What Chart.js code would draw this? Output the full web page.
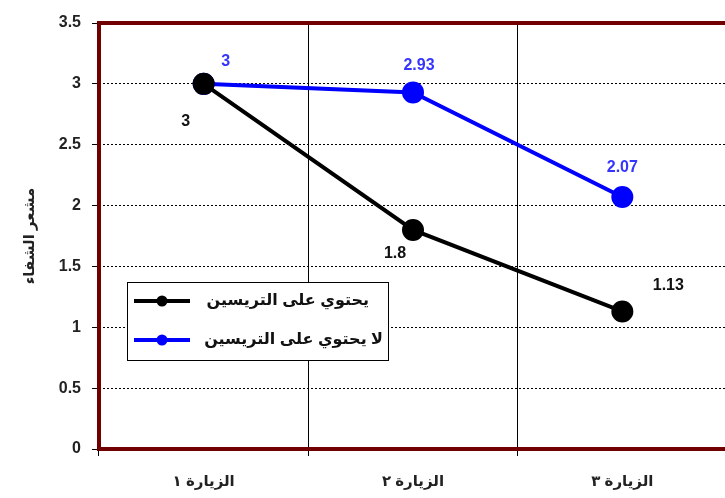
<!DOCTYPE html>
<html>
<head>
<meta charset="utf-8">
<script src="https://cdn.jsdelivr.net/npm/chart.js@4.4.1/dist/chart.umd.min.js"></script>
<style>
  html, body { margin: 0; padding: 0; background: #fff; overflow: hidden; }
  #wrap { width: 740px; height: 498px; }
</style>
</head>
<body>
<div id="wrap"><canvas id="myChart" width="740" height="498"></canvas></div>
<script>
// visits and recovery index per group
const visits = ['الزيارة ١', 'الزيارة ٢', 'الزيارة ٣'];
const withTriacin = [3, 1.8, 1.13];
const withoutTriacin = [3, 2.93, 2.07];
const seriesNames = ['يحتوي على التريسين', 'لا يحتوي على التريسين'];
const yTitle = 'مشعر الشفاء';

// where each value label sits relative to its point
const labelSpots = [
  [[-18, 38], [-18, 24], [46, -26]],
  [[22, -22], [6, -27], [0, -29]]
];

const FONT = '"Liberation Sans", Arial, "DejaVu Sans", sans-serif';
const FRAME = '#700000';

const data = {
  labels: visits,
  datasets: [{
    label: seriesNames[0],
    data: withTriacin,
    borderColor: '#000000',
    backgroundColor: '#000000',
    labelColor: '#111111',
    borderWidth: 4,
    pointRadius: 9,
    pointHoverRadius: 9,
    tension: 0
  }, {
    label: seriesNames[1],
    data: withoutTriacin,
    borderColor: '#0000ff',
    backgroundColor: '#0000ff',
    labelColor: '#3535ff',
    borderWidth: 4,
    pointRadius: 9,
    pointHoverRadius: 9,
    tension: 0
  }]
};

// dark red frame on top, left and bottom edges
const frame = {
  id: 'frame',
  beforeDatasetsDraw(chart) {
    const { ctx, chartArea: { top, bottom, left } } = chart;
    ctx.save();
    ctx.strokeStyle = FRAME;
    ctx.lineWidth = 4;
    ctx.beginPath();
    ctx.moveTo(chart.width, top);
    ctx.lineTo(left, top);
    ctx.lineTo(left, bottom);
    ctx.lineTo(chart.width, bottom);
    ctx.stroke();
    ctx.restore();
  }
};

// value labels next to each point
const valueLabels = {
  id: 'valueLabels',
  afterDatasetsDraw(chart) {
    const { ctx } = chart;
    ctx.save();
    ctx.font = 'bold 16px ' + FONT;
    ctx.textAlign = 'center';
    ctx.textBaseline = 'middle';
    chart.data.datasets.forEach((ds, i) => {
      const meta = chart.getDatasetMeta(i);
      ctx.fillStyle = ds.labelColor;
      meta.data.forEach((pt, j) => {
        const [dx, dy] = labelSpots[i][j];
        ctx.fillText(String(ds.data[j]), pt.x + dx, pt.y + dy);
      });
    });
    ctx.restore();
  }
};

// boxed legend inside the plot
const boxLegend = {
  id: 'boxLegend',
  afterDraw(chart) {
    const { ctx } = chart;
    const x = 127, y = 282, w = 261, h = 78;
    ctx.save();
    ctx.fillStyle = '#fff';
    ctx.fillRect(x, y, w, h);
    ctx.strokeStyle = '#000';
    ctx.lineWidth = 1;
    ctx.strokeRect(x + 0.5, y + 0.5, w, h);
    chart.data.datasets.forEach((ds, i) => {
      const cy = y + 19 + i * 39;
      ctx.strokeStyle = ds.borderColor;
      ctx.lineWidth = 4;
      ctx.beginPath();
      ctx.moveTo(x + 7, cy);
      ctx.lineTo(x + 63, cy);
      ctx.stroke();
      ctx.fillStyle = ds.backgroundColor;
      ctx.beginPath();
      ctx.arc(x + 35, cy, 5.5, 0, Math.PI * 2);
      ctx.fill();
      ctx.fillStyle = '#111';
      ctx.font = 'bold 16px ' + FONT;
      ctx.textAlign = 'right';
      ctx.textBaseline = 'middle';
      ctx.fillText(ds.label, i === 0 ? x + 242 : x + 256, cy);
    });
    ctx.restore();
  }
};

const config = {
  type: 'line',
  data,
  options: {
    responsive: false,
    animation: false,
    events: [],
    layout: { padding: { left: 21, top: 23, right: 0, bottom: 0 } },
    scales: {
      x: {
        offset: true,
        afterFit(scale) { scale.height = 49; },
        grid: {
          offset: true,
          color: '#000',
          lineWidth: 1,
          drawTicks: true,
          tickLength: 7,
          tickColor: '#000'
        },
        border: { display: false },
        ticks: {
          color: '#222',
          padding: 17,
          font: { family: FONT, size: 15, weight: 'bold' }
        }
      },
      y: {
        min: 0,
        max: 3.5,
        afterFit(scale) { scale.width = 78; },
        grid: {
          color: '#000',
          lineWidth: 1,
          drawTicks: true,
          tickLength: 7,
          tickColor: '#000'
        },
        border: { display: false, dash: [2, 2] },
        ticks: {
          stepSize: 0.5,
          color: '#222',
          padding: 11,
          font: { family: FONT, size: 16, weight: 'bold' },
          callback: (v) => String(v)
        },
        title: {
          display: true,
          text: yTitle,
          color: '#222',
          padding: { top: 0, bottom: 6 },
          font: { family: FONT, size: 15, weight: 'bold' }
        }
      }
    },
    plugins: {
      legend: { display: false },
      tooltip: { enabled: false }
    }
  },
  plugins: [frame, valueLabels, boxLegend]
};

const myChart = new Chart(document.getElementById('myChart'), config);
</script>
</body>
</html>
